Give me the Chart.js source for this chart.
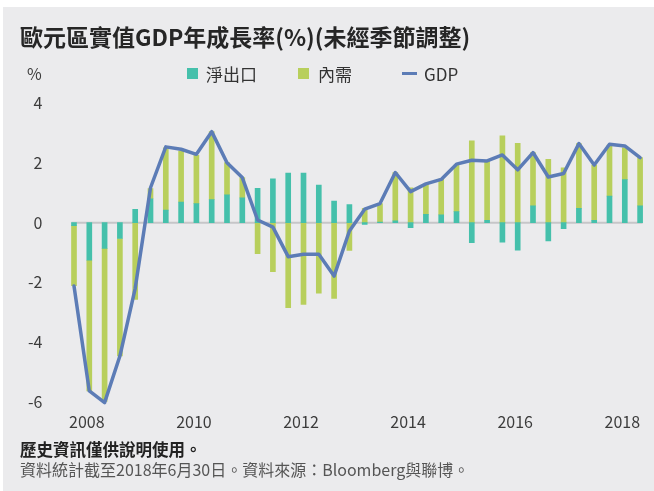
<!DOCTYPE html>
<html><head><meta charset="utf-8">
<script src="https://cdn.jsdelivr.net/npm/chart.js@4.4.1/dist/chart.umd.min.js"></script>
<style>
html,body{margin:0;padding:0;background:#fff;}
#wrap{position:relative;width:654px;height:491px;overflow:hidden;background:#fff;font-family:"Noto Sans CJK TC","Noto Sans",sans-serif;}
#panel{position:absolute;left:3px;top:7px;right:0;bottom:0;background:#ebebed;}
#c{position:absolute;left:0;top:0;}
.t{position:absolute;white-space:nowrap;line-height:1;}
#title{left:20px;top:25px;font-size:23px;font-weight:700;color:#262626;}
#pct{left:27px;top:65px;font-size:16px;color:#3c3c3c;}
.lg{position:absolute;}
.lt{font-size:17px;color:#333;top:64.5px;}
#f1{left:20px;top:441px;font-size:16.5px;font-weight:700;color:#222;}
#f2{left:20px;top:460.5px;font-size:16px;color:#555;}
</style></head>
<body>
<div id="wrap">
  <div id="panel"></div>
  <canvas id="c" width="654" height="491"></canvas>
  <div class="t" id="title">歐元區實值GDP年成長率(%)(未經季節調整)</div>
  <div class="t" id="pct">%</div>
  <div class="lg" style="left:187px;top:67.5px;width:11px;height:11px;background:#45c0ab"></div>
  <div class="t lt" style="left:206px">淨出口</div>
  <div class="lg" style="left:298px;top:67.5px;width:11px;height:11px;background:#b8cf5c"></div>
  <div class="t lt" style="left:318px">內需</div>
  <div class="lg" style="left:402px;top:71.5px;width:15px;height:3px;background:#5c7cb6"></div>
  <div class="t lt" style="left:424px">GDP</div>
  <div class="t" id="f1">歷史資訊僅供說明使用。</div>
  <div class="t" id="f2">資料統計截至2018年6月30日。資料來源：Bloomberg與聯博。</div>
</div>
<script>
const quarters = ['2008Q4','2009Q1','2009Q2','2009Q3','2009Q4','2010Q1','2010Q2','2010Q3','2010Q4',
  '2011Q1','2011Q2','2011Q3','2011Q4','2012Q1','2012Q2','2012Q3','2012Q4','2013Q1','2013Q2','2013Q3','2013Q4',
  '2014Q1','2014Q2','2014Q3','2014Q4','2015Q1','2015Q2','2015Q3','2015Q4','2016Q1','2016Q2','2016Q3','2016Q4',
  '2017Q1','2017Q2','2017Q3','2017Q4','2018Q1'];
const xTickLabels = ['','2008','','','','','','','2010','','','','','','','2012','','','','','','',
  '2014','','','','','','','2016','','','','','','','2018',''];
const netExports = [-0.10,-1.26,-0.86,-0.53,0.45,0.80,0.42,0.69,0.64,0.77,0.93,0.83,1.15,1.47,1.66,1.66,1.26,0.72,0.61,-0.06,
  0.02,0.06,-0.17,0.28,0.26,0.37,-0.67,0.08,-0.65,-0.92,0.56,-0.61,-0.20,0.48,0.08,0.89,1.44,0.56];
const domesticDemand = [-2.01,-4.38,-5.17,-3.94,-2.57,0.34,2.09,1.71,1.62,2.28,1.08,0.68,-1.04,-1.64,-2.85,-2.74,-2.36,-2.54,-0.93,0.48,
  0.62,1.62,1.17,1.00,1.20,1.56,2.74,1.99,2.91,2.66,1.79,2.12,1.84,2.17,1.85,1.71,1.07,1.62];
const gdp = [-2.12,-5.64,-6.03,-4.47,-2.20,1.17,2.54,2.46,2.29,3.05,2.01,1.51,0.09,-0.15,-1.14,-1.06,-1.06,-1.79,-0.28,0.45,
  0.64,1.68,1.04,1.30,1.45,1.96,2.09,2.07,2.27,1.77,2.35,1.53,1.65,2.65,1.93,2.63,2.57,2.18];
const yTicks = [-6,-4,-2,0,2,4];

const FONT = '"Noto Sans CJK TC", "Noto Sans", sans-serif';

const zeroLine = {
  id:'zeroLine',
  beforeDatasetsDraw(chart){
    const xs = chart.scales.x, ys = chart.scales.y, ctx = chart.ctx;
    const bars = chart.getDatasetMeta(1).data;
    const half = bars[0].width/2;
    const y0 = ys.getPixelForValue(0);
    ctx.save();
    ctx.strokeStyle = '#c6c6c8';
    ctx.lineWidth = 2;
    ctx.beginPath();
    ctx.moveTo(xs.getPixelForValue(0)-half, y0);
    ctx.lineTo(xs.getPixelForValue(quarters.length-1)+half, y0);
    ctx.stroke();
    ctx.restore();
  }
};

new Chart(document.getElementById('c'), {
  type:'bar',
  data:{
    labels: quarters,
    datasets:[
      {type:'line', label:'GDP', data:gdp, borderColor:'#5c7cb6', backgroundColor:'#5c7cb6', borderWidth:3.5,
       pointRadius:0, tension:0, order:0, stack:'gdp', clip:false, borderJoinStyle:'round', borderCapStyle:'round'},
      {label:'淨出口', data:netExports, backgroundColor:'#45c0ab', barThickness:5, stack:'s', order:1},
      {label:'內需', data:domesticDemand, backgroundColor:'#b8cf5c', barThickness:5, stack:'s', order:2}
    ]
  },
  options:{
    responsive:false, animation:false, devicePixelRatio:1,
    layout:{padding:{left:0, right:6.25, top:103.3, bottom:0}},
    plugins:{legend:{display:false}, tooltip:{enabled:false}},
    scales:{
      x:{stacked:true, grid:{display:false, drawTicks:false}, border:{display:false},
         ticks:{autoSkip:false, maxRotation:0, minRotation:0, padding:11, labelOffset:-2.5,
                font:{family:FONT, size:16}, color:'#3c3c3c',
                callback:(v,i)=>xTickLabels[i]},
         afterFit:s=>{s.height=89.3;}},
      y:{stacked:true, min:yTicks[0], max:yTicks[yTicks.length-1],
         afterBuildTicks:s=>{s.ticks = yTicks.map(v=>({value:v}));},
         grid:{display:false, drawTicks:false}, border:{display:false},
         ticks:{padding:24, font:{family:FONT, size:16}, color:'#3c3c3c'},
         afterFit:s=>{s.width=66.35;}}
    }
  },
  plugins:[zeroLine]
});
</script>
</body></html>
